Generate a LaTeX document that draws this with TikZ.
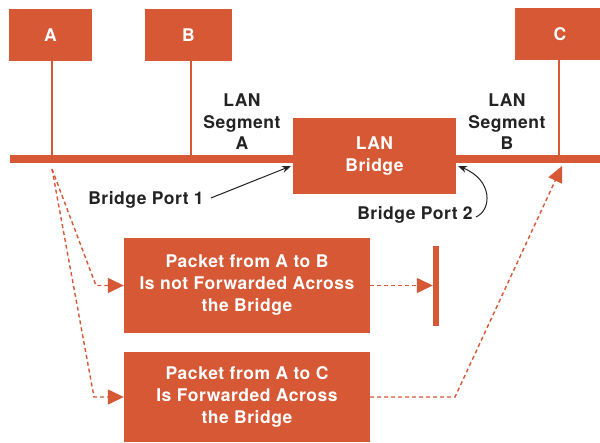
\documentclass[tikz,border=0pt]{standalone}
\usepackage{fontspec}
\setmainfont{TeX Gyre Heros}[LetterSpace=3]
\usetikzlibrary{arrows.meta}
\definecolor{brick}{RGB}{214,88,52}
\definecolor{ink}{RGB}{35,35,35}
\begin{document}
\begin{tikzpicture}[x=1pt,y=-1pt,
  box/.style={fill=brick, draw=none, text=white, inner sep=0pt, align=center,
    font=\bfseries\fontsize{17.5}{22}\selectfont},
  lbl/.style={text=ink, inner sep=0pt, align=center,
    font=\bfseries\fontsize{17.5}{21.5}\selectfont},
  wire/.style={draw=brick, line width=2pt},
  bus/.style={draw=brick, line width=8pt},
  flow/.style={draw=brick, line width=1.4pt, dash pattern=on 4pt off 3pt,
    -{Triangle[length=16pt,width=15pt,sep=0pt]}},
  pointer/.style={draw=ink, line width=1pt, -{Stealth[length=9pt,width=7pt]}}
]
\useasboundingbox (0,0) rectangle (600,442);
\fill[white] (0,0) rectangle (600,442);

% stations
\node[box, minimum width=83pt, minimum height=52pt] (A) at (50.5,35) {A};
\node[box, minimum width=87pt, minimum height=52pt] (B) at (188.5,35) {B};
\node[box, minimum width=90pt, minimum height=52pt] (C) at (560,34) {C};

% taps on the LAN cable
\coordinate (lanL) at (10,159);
\coordinate (lanR) at (600,159);
\coordinate (tapA) at (52,159);
\coordinate (tapB) at (191,159);
\coordinate (tapC) at (559,159);

\draw[bus] (lanL) -- (lanR);
\draw[wire] (tapA |- A.south) -- (tapA);
\draw[wire] (tapB |- B.south) -- (tapB);
\draw[wire] (tapC |- C.south) -- (tapC);

% bridge
\node[box, minimum width=163pt, minimum height=76pt] (bridge) at (374.5,156) {LAN\\Bridge};

% segment labels
\node[lbl] (segA) at (242,122) {LAN\\Segment\\A};
\node[lbl] (segB) at (507,122) {LAN\\Segment\\B};

% port labels
\node[lbl] (port1) at (146,200) {Bridge Port 1};
\node[lbl] (port2) at (415,215) {Bridge Port 2};
\coordinate (p1tip) at (291,166);
\coordinate (p2tip) at (458,166);
\draw[pointer] ([xshift=7pt,yshift=2pt]port1.east) -- (p1tip);
\draw[pointer] ([xshift=3pt,yshift=-2pt]port2.east) .. controls (492,210) and (493,180) .. (p2tip);

% packet outcomes
\node[box, minimum width=246pt, minimum height=95pt] (pkt1) at (247,285.5)
  {Packet from A to B\\Is not Forwarded Across\\the Bridge};
\node[box, minimum width=246pt, minimum height=90pt] (pkt2) at (247,397)
  {Packet from A to C\\Is Forwarded Across\\the Bridge};
\node[fill=brick, inner sep=0pt, minimum width=6pt, minimum height=80pt] (bar) at (436,285.5) {};

% packet paths
\coordinate (fork) at (52,169);
\coordinate (bend1) at (96,285.5);
\coordinate (bend2) at (94,397);
\coordinate (bend3) at (455,397);
\coordinate (tipC) at (562,166);
\draw[flow] (fork) -- (bend1) -- (bend1 -| pkt1.west);
\draw[flow] (fork) -- (bend2) -- (bend2 -| pkt2.west);
\draw[flow] (pkt1.east) -- (pkt1.east -| bar.west);
\draw[flow] (pkt2.east) -- (bend3) -- (tipC);
\end{tikzpicture}
\end{document}
